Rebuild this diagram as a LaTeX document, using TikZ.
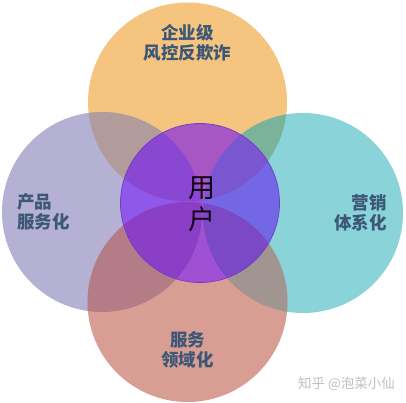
\documentclass[tikz,border=0pt]{standalone}
\usepackage{fontspec}
\newfontfamily\cjk{Noto Sans CJK SC}
\definecolor{cOrange}{RGB}{245,196,127}
\definecolor{cLav}{RGB}{180,177,212}
\definecolor{cTeal}{RGB}{138,211,217}
\definecolor{cSalmon}{RGB}{217,158,147}
\definecolor{cTL}{RGB}{178,156,155}
\definecolor{cTR}{RGB}{123,179,154}
\definecolor{cBL}{RGB}{180,124,134}
\definecolor{cBR}{RGB}{160,149,144}
\definecolor{pBase}{RGB}{138,85,218}
\definecolor{pT}{RGB}{167,87,195}
\definecolor{pL}{RGB}{143,87,234}
\definecolor{pR}{RGB}{116,103,230}
\definecolor{pB}{RGB}{160,81,211}
\definecolor{pTL}{RGB}{138,72,210}
\definecolor{pTR}{RGB}{122,87,208}
\definecolor{pBL}{RGB}{138,63,198}
\definecolor{pBR}{RGB}{123,72,198}
\definecolor{pEdge}{RGB}{112,64,190}
\definecolor{labelc}{RGB}{60,88,118}
\tikzset{
  labeltext/.style={text=labelc, font=\cjk\bfseries\fontsize{17.5}{20}\selectfont, inner sep=0pt},
  centertext/.style={text=black!85!violet, font=\cjk\fontsize{27}{32}\selectfont, inner sep=0pt, align=center},
  marktext/.style={text=black!25, font=\cjk\fontsize{13.5}{15}\selectfont, inner sep=0pt}
}
\begin{document}
\begin{tikzpicture}[x=1pt,y=-1pt]
\useasboundingbox (0,0) rectangle (406,403);
\fill[white] (0,0) rectangle (406,403);
\def\Tc{(187.5,102) circle[radius=99.5]}
\def\Lc{(102,212) circle[radius=100]}
\def\Rc{(303,213) circle[radius=100]}
\def\Bc{(187.5,302) circle[radius=100]}
\def\Cc{(200,203) circle[radius=79.5]}
% base circles
\fill[cOrange] \Tc;
\fill[cLav] \Lc;
\fill[cTeal] \Rc;
\fill[cSalmon] \Bc;
% pairwise overlaps
\begin{scope}\clip \Tc; \fill[cTL] \Lc; \fill[cTR] \Rc; \end{scope}
\begin{scope}\clip \Bc; \fill[cBL] \Lc; \fill[cBR] \Rc; \end{scope}
% central circle regions
\begin{scope}
  \clip \Cc;
  \fill[pBase] \Cc;
  \fill[pL] \Lc;
  \fill[pR] \Rc;
  \fill[pT] \Tc;
  \fill[pB] \Bc;
  \begin{scope}\clip \Tc; \fill[pTL] \Lc; \fill[pTR] \Rc; \end{scope}
  \begin{scope}\clip \Bc; \fill[pBL] \Lc; \fill[pBR] \Rc; \end{scope}
\end{scope}
\draw[pEdge, line width=0.7pt] \Cc;
% labels
\node[labeltext, align=center] (top) at (187.5,43) {企业级\\风控反欺诈};
\node[labeltext, align=left, anchor=west] (left) at (17,212) {产品\\服务化};
\node[labeltext, align=right, anchor=east] (right) at (387,212.5) {营销\\体系化};
\node[labeltext, align=center] (bottom) at (187.5,350) {服务\\领域化};
\node[centertext] (user) at (202,204) {用\\户};
\node[marktext] (mark) at (346.5,384) {知乎 @泡菜小仙};
\end{tikzpicture}
\end{document}
